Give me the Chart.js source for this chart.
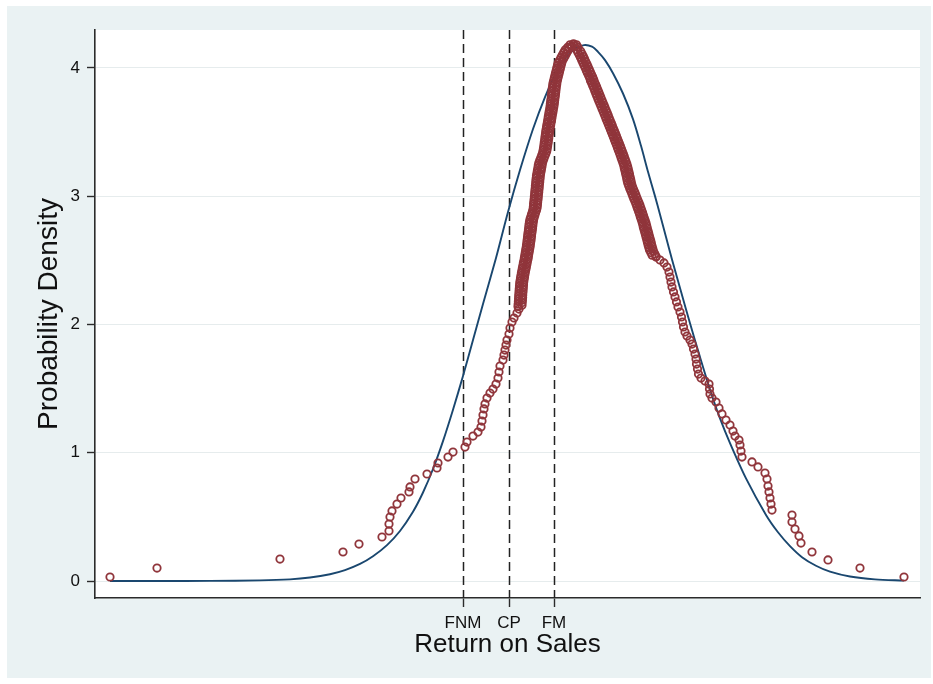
<!DOCTYPE html>
<html>
<head>
<meta charset="utf-8">
<title>Return on Sales - probability density</title>
<script src="https://cdn.jsdelivr.net/npm/chart.js@4.4.1/dist/chart.umd.min.js"></script>
<style>
    html, body { margin: 0; padding: 0; background: #ffffff; }
    #wrap { width: 933px; height: 684px; }
</style>
</head>
<body>
<div id="wrap"><canvas id="densityChart" width="933" height="684"></canvas></div>
<script>
// Kernel density estimate, one [returnOnSales, density] pair per marker
// left tail and lower rising side
const kdensityLeft = [
    [-0.390,0.031],[-0.343,0.101],[-0.220,0.171],[-0.157,0.226],[-0.141,0.288],[-0.118,0.343],
    [-0.111,0.390],[-0.111,0.444],[-0.110,0.499],[-0.108,0.546],[-0.103,0.600],[-0.099,0.647],
    [-0.091,0.694],[-0.090,0.733],[-0.085,0.795],[-0.073,0.834],[-0.063,0.881],[-0.062,0.920],
    [-0.052,0.966],[-0.047,1.005],[-0.035,1.044],[-0.033,1.083],[-0.027,1.130],[-0.022,1.161],
    [-0.019,1.200],[-0.018,1.247],[-0.017,1.294],[-0.016,1.341],[-0.015,1.380],[-0.013,1.426],
    [-0.010,1.465],[-0.007,1.496],[-0.004,1.535],[-0.002,1.582],[-0.001,1.629],[0.000,1.676],
    [0.003,1.722],[0.004,1.761],[0.005,1.800],[0.006,1.839],[0.007,1.878],[0.009,1.925],
    [0.010,1.972],[0.012,2.019],[0.014,2.050],[0.017,2.089],[0.019,2.120]
];

// dense band, rising side up to the mode
const kdensityRise = [
    [0.0180,2.14],[0.0220,2.15],[0.0182,2.16],[0.0222,2.17],[0.0184,2.18],[0.0224,2.19],
    [0.0186,2.20],[0.0226,2.21],[0.0187,2.22],[0.0227,2.23],[0.0189,2.24],[0.0229,2.25],
    [0.0191,2.26],[0.0231,2.27],[0.0193,2.28],[0.0233,2.29],[0.0195,2.30],[0.0235,2.31],
    [0.0197,2.32],[0.0237,2.33],[0.0201,2.34],[0.0241,2.35],[0.0205,2.36],[0.0245,2.37],
    [0.0209,2.38],[0.0249,2.39],[0.0214,2.40],[0.0254,2.41],[0.0219,2.42],[0.0259,2.43],
    [0.0224,2.44],[0.0264,2.45],[0.0229,2.46],[0.0269,2.47],[0.0234,2.48],[0.0274,2.49],
    [0.0240,2.50],[0.0280,2.51],[0.0244,2.52],[0.0284,2.53],[0.0248,2.54],[0.0288,2.55],
    [0.0253,2.56],[0.0293,2.57],[0.0257,2.58],[0.0297,2.59],[0.0262,2.60],[0.0302,2.61],
    [0.0265,2.62],[0.0305,2.63],[0.0269,2.64],[0.0309,2.65],[0.0272,2.66],[0.0312,2.67],
    [0.0275,2.68],[0.0315,2.69],[0.0278,2.70],[0.0318,2.71],[0.0282,2.72],[0.0322,2.73],
    [0.0285,2.74],[0.0325,2.75],[0.0288,2.76],[0.0328,2.77],[0.0291,2.78],[0.0331,2.79],
    [0.0295,2.80],[0.0335,2.81],[0.0300,2.82],[0.0340,2.83],[0.0308,2.84],[0.0348,2.85],
    [0.0316,2.86],[0.0356,2.87],[0.0325,2.88],[0.0365,2.89],[0.0331,2.90],[0.0371,2.91],
    [0.0334,2.92],[0.0374,2.93],[0.0336,2.94],[0.0376,2.95],[0.0339,2.96],[0.0379,2.97],
    [0.0342,2.98],[0.0382,2.99],[0.0344,3.00],[0.0384,3.01],[0.0347,3.02],[0.0387,3.03],
    [0.0349,3.04],[0.0389,3.05],[0.0352,3.06],[0.0392,3.07],[0.0354,3.08],[0.0394,3.09],
    [0.0357,3.10],[0.0397,3.11],[0.0359,3.12],[0.0399,3.13],[0.0362,3.14],[0.0402,3.15],
    [0.0365,3.16],[0.0405,3.17],[0.0370,3.18],[0.0410,3.19],[0.0374,3.20],[0.0414,3.21],
    [0.0379,3.22],[0.0419,3.23],[0.0383,3.24],[0.0423,3.25],[0.0389,3.26],[0.0429,3.27],
    [0.0398,3.28],[0.0438,3.29],[0.0408,3.30],[0.0448,3.31],[0.0418,3.32],[0.0458,3.33],
    [0.0427,3.34],[0.0467,3.35],[0.0432,3.36],[0.0472,3.37],[0.0436,3.38],[0.0476,3.39],
    [0.0440,3.40],[0.0480,3.41],[0.0443,3.42],[0.0483,3.43],[0.0447,3.44],[0.0487,3.45],
    [0.0450,3.46],[0.0490,3.47],[0.0454,3.48],[0.0494,3.49],[0.0457,3.50],[0.0497,3.51],
    [0.0461,3.52],[0.0501,3.53],[0.0466,3.54],[0.0506,3.55],[0.0470,3.56],[0.0510,3.57],
    [0.0475,3.58],[0.0515,3.59],[0.0479,3.60],[0.0519,3.61],[0.0483,3.62],[0.0523,3.63],
    [0.0488,3.64],[0.0528,3.65],[0.0492,3.66],[0.0532,3.67],[0.0497,3.68],[0.0537,3.69],
    [0.0501,3.70],[0.0541,3.71],[0.0504,3.72],[0.0544,3.73],[0.0507,3.74],[0.0547,3.75],
    [0.0511,3.76],[0.0551,3.77],[0.0514,3.78],[0.0554,3.79],[0.0517,3.80],[0.0557,3.81],
    [0.0520,3.82],[0.0560,3.83],[0.0523,3.84],[0.0563,3.85],[0.0527,3.86],[0.0567,3.87],
    [0.0530,3.88],[0.0570,3.89],[0.0536,3.90],[0.0576,3.91],[0.0543,3.92],[0.0583,3.93],
    [0.0549,3.94],[0.0589,3.95],[0.0555,3.96],[0.0595,3.97],[0.0562,3.98],[0.0602,3.99],
    [0.0568,4.00],[0.0608,4.01],[0.0575,4.02],[0.0615,4.03],[0.0582,4.04],[0.0622,4.05],
    [0.0596,4.06],[0.0636,4.07],[0.0610,4.08],[0.0650,4.09],[0.0623,4.10],[0.0663,4.11],
    [0.0637,4.12],[0.0677,4.13],[0.0651,4.14],[0.0691,4.15],[0.0677,4.16],[0.0717,4.17],
    [0.0700,4.180],[0.0715,4.165],[0.0735,4.188],[0.0745,4.170],[0.0765,4.180],[0.0780,4.160]
];

// dense band, falling side below the mode
const kdensityFall = [
    [0.0767,4.14],[0.0807,4.13],[0.0780,4.12],[0.0820,4.11],[0.0793,4.10],[0.0833,4.09],
    [0.0805,4.08],[0.0845,4.07],[0.0817,4.06],[0.0857,4.05],[0.0829,4.04],[0.0869,4.03],
    [0.0840,4.02],[0.0880,4.01],[0.0852,4.00],[0.0892,3.99],[0.0863,3.98],[0.0903,3.97],
    [0.0874,3.96],[0.0914,3.95],[0.0886,3.94],[0.0926,3.93],[0.0897,3.92],[0.0937,3.91],
    [0.0905,3.90],[0.0945,3.89],[0.0917,3.88],[0.0957,3.87],[0.0927,3.86],[0.0967,3.85],
    [0.0938,3.84],[0.0978,3.83],[0.0948,3.82],[0.0988,3.81],[0.0958,3.80],[0.0998,3.79],
    [0.0968,3.78],[0.1008,3.77],[0.0979,3.76],[0.1019,3.75],[0.0989,3.74],[0.1029,3.73],
    [0.1000,3.72],[0.1040,3.71],[0.1010,3.70],[0.1050,3.69],[0.1021,3.68],[0.1061,3.67],
    [0.1032,3.66],[0.1072,3.65],[0.1042,3.64],[0.1082,3.63],[0.1052,3.62],[0.1092,3.61],
    [0.1062,3.60],[0.1102,3.59],[0.1073,3.58],[0.1113,3.57],[0.1083,3.56],[0.1123,3.55],
    [0.1093,3.54],[0.1133,3.53],[0.1104,3.52],[0.1144,3.51],[0.1114,3.50],[0.1154,3.49],
    [0.1124,3.48],[0.1164,3.47],[0.1134,3.46],[0.1174,3.45],[0.1144,3.44],[0.1184,3.43],
    [0.1154,3.42],[0.1194,3.41],[0.1164,3.40],[0.1204,3.39],[0.1174,3.38],[0.1214,3.37],
    [0.1183,3.36],[0.1223,3.35],[0.1193,3.34],[0.1233,3.33],[0.1202,3.32],[0.1242,3.31],
    [0.1211,3.30],[0.1251,3.29],[0.1220,3.28],[0.1260,3.27],[0.1229,3.26],[0.1269,3.25],
    [0.1237,3.24],[0.1277,3.23],[0.1243,3.22],[0.1283,3.21],[0.1249,3.20],[0.1289,3.19],
    [0.1255,3.18],[0.1295,3.17],[0.1261,3.16],[0.1301,3.15],[0.1267,3.14],[0.1307,3.13],
    [0.1272,3.12],[0.1312,3.11],[0.1278,3.10],[0.1318,3.09],[0.1287,3.08],[0.1327,3.07],
    [0.1297,3.06],[0.1337,3.05],[0.1308,3.04],[0.1348,3.03],[0.1318,3.02],[0.1358,3.01],
    [0.1328,3.00],[0.1368,2.99],[0.1338,2.98],[0.1378,2.97],[0.1349,2.96],[0.1389,2.95],
    [0.1359,2.94],[0.1399,2.93],[0.1368,2.92],[0.1408,2.91],[0.1377,2.90],[0.1417,2.89],
    [0.1386,2.88],[0.1426,2.87],[0.1395,2.86],[0.1435,2.85],[0.1403,2.84],[0.1443,2.83],
    [0.1412,2.82],[0.1452,2.81],[0.1420,2.80],[0.1460,2.79],[0.1427,2.78],[0.1467,2.77],
    [0.1433,2.76],[0.1473,2.75],[0.1440,2.74],[0.1480,2.73],[0.1447,2.72],[0.1487,2.71],
    [0.1454,2.70],[0.1494,2.69],[0.1461,2.68],[0.1501,2.67],[0.1468,2.66],[0.1508,2.65],
    [0.1474,2.64],[0.1514,2.63],[0.1481,2.62],[0.1521,2.61],[0.1488,2.60],[0.1528,2.59],
    [0.1495,2.58],[0.1535,2.57],[0.1508,2.56],[0.1548,2.55],[0.1521,2.54],[0.1561,2.53]
];

// right shoulder and right tail
const kdensityRight = [
    [0.156,2.525],[0.160,2.502],[0.164,2.479],[0.167,2.447],[0.169,2.408],[0.170,2.369],
    [0.171,2.330],[0.172,2.292],[0.1735,2.253],[0.175,2.214],[0.1765,2.175],[0.178,2.136],
    [0.180,2.097],[0.1815,2.058],[0.1825,2.019],[0.1835,1.980],[0.185,1.941],[0.187,1.909],
    [0.190,1.878],[0.192,1.847],[0.1935,1.808],[0.195,1.769],[0.196,1.730],[0.1965,1.691],
    [0.1975,1.652],[0.1985,1.613],[0.201,1.582],[0.205,1.559],[0.209,1.535],[0.2095,1.496],
    [0.210,1.458],[0.212,1.426],[0.216,1.395],[0.219,1.348],[0.222,1.302],[0.226,1.255],
    [0.230,1.216],[0.233,1.169],[0.235,1.130],[0.239,1.099],[0.240,1.060],[0.241,1.013],
    [0.242,0.966],[0.252,0.928],[0.258,0.889],[0.265,0.842],[0.267,0.795],[0.268,0.740],
    [0.269,0.694],[0.270,0.647],[0.271,0.600],[0.272,0.553],[0.292,0.514],[0.292,0.460],
    [0.295,0.405],[0.299,0.351],[0.301,0.296],[0.312,0.226],[0.328,0.164],[0.360,0.101],
    [0.404,0.031]
];

// Normal density overlay
const normalCurve = [
    [-0.390,0.000],[-0.340,0.000],[-0.290,0.001],[-0.240,0.005],[-0.210,0.013],[-0.190,0.027],
    [-0.170,0.053],[-0.155,0.085],[-0.140,0.133],[-0.127,0.193],[-0.113,0.280],[-0.100,0.390],
    [-0.087,0.540],[-0.077,0.690],[-0.067,0.873],[-0.057,1.090],[-0.047,1.335],[-0.037,1.598],
    [-0.027,1.878],[-0.017,2.159],[-0.004,2.518],[0.008,2.876],[0.020,3.203],[0.033,3.523],
    [0.045,3.772],[0.056,3.959],[0.068,4.100],[0.076,4.152],[0.084,4.177],[0.092,4.165],
    [0.098,4.125],[0.105,4.060],[0.113,3.958],[0.123,3.800],[0.133,3.600],[0.141,3.392],
    [0.148,3.190],[0.155,3.000],[0.160,2.857],[0.166,2.682],[0.172,2.506],[0.181,2.256],
    [0.190,2.009],[0.200,1.745],[0.211,1.468],[0.220,1.268],[0.230,1.075],[0.246,0.800],
    [0.266,0.515],[0.278,0.380],[0.290,0.272],[0.302,0.186],[0.316,0.119],[0.330,0.073],
    [0.350,0.035],[0.375,0.013],[0.404,0.003]
];

// Reference lines on the x axis (these are the only x labels)
const refLineValues = [-0.037, 0.009, 0.054];
const refLineLabels = ['FNM', 'CP', 'FM'];

const yTickValues = [0, 1, 2, 3, 4];
const xRange = [-0.405, 0.42];
const yRange = [-0.1325, 4.295];

const BG_COLOR = '#eaf2f3';
const MAROON = '#90353b';
const NAVY = '#1a476f';
const AXIS_COLOR = '#2b2b2b';

Chart.defaults.font.family = "'Liberation Sans', Arial, sans-serif";
Chart.defaults.color = '#111111';

const kdensityPoints = kdensityLeft.concat(kdensityRise, kdensityFall, kdensityRight);

// backgrounds: white page, bluish graph region, white plot region
const backgroundPlugin = {
    id: 'stataBackground',
    beforeDraw(chart) {
        const ctx = chart.ctx;
        const area = chart.chartArea;
        ctx.save();
        ctx.fillStyle = '#ffffff';
        ctx.fillRect(0, 0, chart.width, chart.height);
        ctx.fillStyle = BG_COLOR;
        ctx.fillRect(7, 6, chart.width - 9, chart.height - 12);
        ctx.fillStyle = '#ffffff';
        ctx.fillRect(area.left, area.top, area.right - area.left, area.bottom - area.top);
        ctx.restore();
    }
};

// dashed vertical lines at FNM, CP, FM
const refLinesPlugin = {
    id: 'refLines',
    beforeDatasetsDraw(chart) {
        const ctx = chart.ctx;
        const area = chart.chartArea;
        const xScale = chart.scales.x;
        ctx.save();
        ctx.strokeStyle = '#222222';
        ctx.lineWidth = 1.5;
        ctx.setLineDash([9, 5]);
        refLineValues.forEach(v => {
            const px = Math.round(xScale.getPixelForValue(v)) + 0.5;
            ctx.beginPath();
            ctx.moveTo(px, area.top);
            ctx.lineTo(px, area.bottom);
            ctx.stroke();
        });
        ctx.restore();
    }
};

const ctx = document.getElementById('densityChart').getContext('2d');
const densityChart = new Chart(ctx, {
    type: 'scatter',
    data: {
        datasets: [
            {
                label: 'Kernel density',
                data: kdensityPoints.map(p => ({ x: p[0], y: p[1] })),
                pointStyle: 'circle',
                pointRadius: 3.7,
                pointBorderWidth: 1.8,
                borderColor: MAROON,
                backgroundColor: 'rgba(0,0,0,0)',
                showLine: false
            },
            {
                label: 'Normal density',
                data: normalCurve.map(p => ({ x: p[0], y: p[1] })),
                showLine: true,
                pointRadius: 0,
                borderColor: NAVY,
                borderWidth: 1.9,
                tension: 0.3,
                backgroundColor: 'rgba(0,0,0,0)'
            }
        ]
    },
    options: {
        responsive: false,
        animation: false,
        layout: { padding: { top: 30, right: 13, bottom: 0, left: 0 } },
        plugins: {
            legend: { display: false },
            tooltip: { enabled: false }
        },
        scales: {
            x: {
                type: 'linear',
                min: xRange[0],
                max: xRange[1],
                afterBuildTicks: scale => { scale.ticks = refLineValues.map(v => ({ value: v })); },
                afterFit: scale => { scale.height = 86; },
                ticks: {
                    autoSkip: false,
                    maxRotation: 0,
                    minRotation: 0,
                    padding: 6,
                    font: { size: 17 },
                    color: '#111111',
                    callback: (value, index) => refLineLabels[index]
                },
                grid: {
                    drawOnChartArea: false,
                    drawTicks: true,
                    tickLength: 9,
                    tickColor: AXIS_COLOR,
                    tickWidth: 1.4
                },
                border: { display: true, color: AXIS_COLOR, width: 1.6 },
                title: {
                    display: true,
                    text: 'Return on Sales',
                    font: { size: 26 },
                    color: '#111111',
                    padding: { top: 0, bottom: 24 }
                }
            },
            y: {
                type: 'linear',
                min: yRange[0],
                max: yRange[1],
                afterBuildTicks: scale => { scale.ticks = yTickValues.map(v => ({ value: v })); },
                afterFit: scale => { scale.width = 95; },
                ticks: {
                    padding: 7,
                    font: { size: 17 },
                    color: '#111111'
                },
                grid: {
                    color: '#e6eced',
                    lineWidth: 1,
                    drawTicks: true,
                    tickLength: 8,
                    tickColor: AXIS_COLOR,
                    tickWidth: 1.4
                },
                border: { display: true, color: AXIS_COLOR, width: 1.6 },
                title: {
                    display: true,
                    text: 'Probability Density',
                    font: { size: 28 },
                    color: '#111111',
                    padding: { top: 32, bottom: 0 }
                }
            }
        }
    },
    plugins: [backgroundPlugin, refLinesPlugin]
});
</script>
</body>
</html>
